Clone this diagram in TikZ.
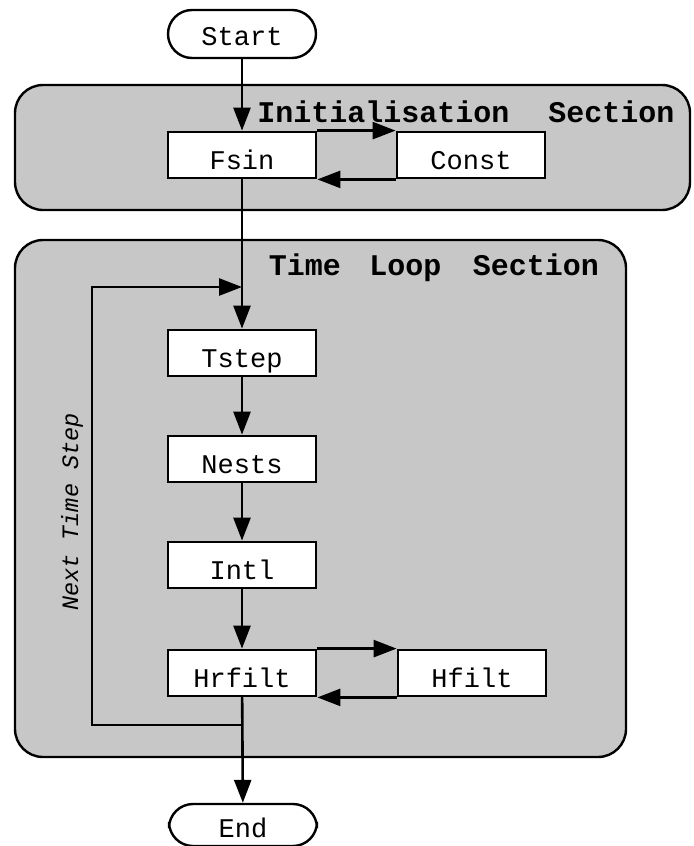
\documentclass[tikz,border=0pt]{standalone}
\usepackage{fontspec}
\setmonofont{Liberation Mono}
\usetikzlibrary{arrows.meta}
\tikzset{block/.style = {shape=rectangle,draw,fill=white,line width=1.4pt,minimum width=74pt,minimum height=23pt,inner sep=0,text height=14pt,text depth=0pt}}
\tikzset{terminal/.style = {shape=rectangle,draw,fill=white,rounded corners=12pt,line width=1.2pt,minimum width=74pt,minimum height=24pt,inner sep=0,text height=12pt,text depth=0pt}}
\tikzset{section/.style = {draw,fill=black!22,rounded corners=14pt,line width=1.2pt}}
\tikzset{edge/.style = {line width=1.3pt,-{Triangle[length=11.5pt,width=8.5pt]}}}
\tikzset{title/.style = {font=\ttfamily\bfseries\fontsize{15}{17}\selectfont}}

\begin{document}
\begin{tikzpicture}[x=0.5pt,y=-0.5pt,font=\ttfamily\fontsize{13.5}{15}\selectfont]
          \useasboundingbox (0,0) rectangle (693,846);
          \draw[section] (15,85) rectangle (690,210);
          \draw[section] (15,240) rectangle (626,757);
          \node[title] (init) at (466,112) {Initialisation\hspace{1.3em}Section};
          \node[title] (loop) at (434,268) {Time\hspace{0.95em}Loop\hspace{1.05em}Section};

          \node[terminal] (start) at (242, 34) {Start};
          \node[block] (fsin) at (242, 155) {Fsin};
          \node[block] (const) at (471, 155) {Const};
          \node[block] (tstep) at (242, 353) {Tstep};
          \node[block] (nests) at (242, 459) {Nests};
          \node[block] (intl) at (242, 565) {Intl};
          \node[block] (hrfilt) at (242, 673) {Hrfilt};
          \node[block] (hfilt) at (472, 673) {Hfilt};
          \node[terminal,minimum height=21pt] (end) at (243, 825) {End};
          \node[rotate=90,font=\ttfamily\itshape\fontsize{11.75}{13}\selectfont] (next) at (72, 512) {Next Time Step};

          \coordinate (turn) at (92, 725);
          \coordinate (join) at (242, 287);

          \draw[edge] (start) to (fsin);
          \draw[edge] (fsin.north east) to (const.north west);
          \draw[edge] (const.south west) to (fsin.south east);
          \draw[edge] (fsin) to (tstep);
          \draw[edge] (tstep) to (nests);
          \draw[edge] (nests) to (intl);
          \draw[edge] (intl) to (hrfilt);
          \draw[edge] (hrfilt.north east) to (hfilt.north west);
          \draw[edge] (hfilt.south west) to (hrfilt.south east);
          \draw[edge] (hrfilt) to (end);
          \draw[edge] (hrfilt.south) |- (turn) |- (join);
        \end{tikzpicture}
\end{document}
